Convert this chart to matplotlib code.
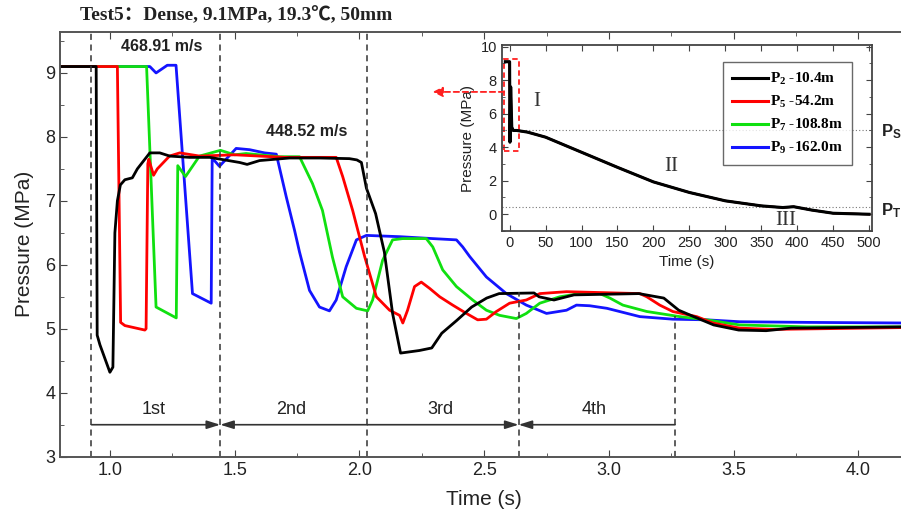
import numpy as np
import matplotlib
matplotlib.use("Agg")
import matplotlib.pyplot as plt
from matplotlib.patches import Rectangle

plt.rcParams["font.family"] = ["Liberation Sans", "DejaVu Sans"]
plt.rcParams["mathtext.fontset"] = "custom"
plt.rcParams["mathtext.rm"] = "Liberation Serif:bold"
plt.rcParams["mathtext.sf"] = "Liberation Sans:bold"

# main window, pressure at the four sensors
t_p2 = [0.80, 0.945, 0.949, 0.96, 1.00, 1.012, 1.02, 1.03, 1.042, 1.06, 1.09, 1.11, 1.14, 1.16,
        1.20, 1.24, 1.28, 1.32, 1.40, 1.52, 1.55, 1.60, 1.72, 1.84, 1.96, 1.99, 2.008, 2.028,
        2.065, 2.10, 2.133, 2.165, 2.24, 2.29, 2.33, 2.39, 2.45, 2.51, 2.56, 2.70, 2.72, 2.78,
        2.86, 3.12, 3.22, 3.28, 3.34, 3.42, 3.52, 3.63, 3.73, 4.20]
p_p2 = [9.1, 9.1, 4.9, 4.75, 4.32, 4.4, 6.5, 7.0, 7.25, 7.33, 7.36, 7.5, 7.65, 7.75,
        7.75, 7.7, 7.69, 7.68, 7.68, 7.6, 7.57, 7.63, 7.67, 7.67, 7.66, 7.64, 7.6, 7.2,
        6.8, 6.2, 5.24, 4.62, 4.66, 4.7, 4.93, 5.13, 5.34, 5.48, 5.55, 5.56, 5.5, 5.45,
        5.53, 5.55, 5.48, 5.29, 5.19, 5.06, 4.98, 4.97, 5.01, 5.03]

t_p5 = [0.80, 1.03, 1.043, 1.06, 1.14, 1.145, 1.152, 1.156, 1.175, 1.19, 1.239, 1.28, 1.36,
        1.50, 1.60, 1.70, 1.80, 1.907, 1.933, 1.973, 2.021, 2.068, 2.121, 2.161, 2.174,
        2.193, 2.221, 2.248, 2.282, 2.322, 2.374, 2.429, 2.474, 2.509, 2.549, 2.602, 2.669,
        2.723, 2.83, 3.124, 3.152, 3.204, 3.256, 3.352, 3.417, 3.524, 3.657, 4.20]
p_p5 = [9.1, 9.1, 5.1, 5.05, 4.98, 5.0, 7.58, 7.65, 7.4, 7.5, 7.7, 7.75, 7.7,
        7.72, 7.7, 7.68, 7.68, 7.68, 7.38, 6.85, 6.13, 5.5, 5.29, 5.21, 5.09,
        5.29, 5.66, 5.73, 5.63, 5.5, 5.37, 5.24, 5.14, 5.15, 5.27, 5.4, 5.45,
        5.55, 5.58, 5.55, 5.5, 5.37, 5.27, 5.19, 5.09, 5.01, 4.99, 5.02]

t_p7 = [0.80, 1.147, 1.185, 1.266, 1.272, 1.303, 1.359, 1.443, 1.50, 1.546, 1.68,
        1.76, 1.812, 1.852, 1.892, 1.933, 1.988, 2.033, 2.053, 2.093, 2.133, 2.173, 2.268,
        2.294, 2.334, 2.389, 2.454, 2.509, 2.562, 2.629, 2.669, 2.723, 2.803, 2.883, 2.964,
        3.004, 3.056, 3.152, 3.284, 3.392, 3.524, 3.793, 4.20]
p_p7 = [9.1, 9.1, 5.34, 5.17, 7.55, 7.38, 7.7, 7.79, 7.72, 7.74, 7.69,
        7.69, 7.27, 6.85, 6.12, 5.5, 5.32, 5.28, 5.45, 6.07, 6.39, 6.41, 6.41,
        6.28, 5.92, 5.66, 5.45, 5.29, 5.21, 5.16, 5.24, 5.4, 5.5, 5.55, 5.55,
        5.48, 5.37, 5.27, 5.19, 5.14, 5.06, 5.03, 5.03]

t_p9 = [0.80, 1.16, 1.185, 1.23, 1.265, 1.331, 1.406, 1.41, 1.439, 1.506, 1.56, 1.62, 1.667,
        1.707, 1.74, 1.76, 1.80, 1.84, 1.88, 1.907, 1.947, 1.988, 2.028, 2.161, 2.294, 2.389,
        2.414, 2.442, 2.509, 2.589, 2.669, 2.75, 2.83, 2.87, 2.923, 2.992, 3.124, 3.256,
        3.392, 3.524, 3.793, 4.20]
p_p9 = [9.1, 9.1, 9.0, 9.12, 9.12, 5.55, 5.4, 7.67, 7.54, 7.82, 7.8, 7.75, 7.73,
        7.06, 6.54, 6.2, 5.6, 5.34, 5.28, 5.45, 5.97, 6.39, 6.46, 6.44, 6.41, 6.39,
        6.28, 6.13, 5.81, 5.55, 5.37, 5.24, 5.29, 5.37, 5.36, 5.32, 5.19, 5.15,
        5.14, 5.11, 5.1, 5.09]

# long-term record for the inset
t_long = [-6, 0, 0.5, 1.5, 3, 5, 10, 25, 50, 100, 150, 200, 250, 300, 350, 380, 395,
          420, 450, 500]
p_long = [9.1, 9.1, 4.3, 7.6, 5.2, 5.0, 5.0, 4.9, 4.6, 3.7, 2.8, 1.93, 1.3, 0.8, 0.5,
          0.4, 0.45, 0.25, 0.06, 0.0]

labels = [r"$\mathrm{P_2}$ -10.4m", r"$\mathrm{P_5}$ -54.2m",
          r"$\mathrm{P_7}$ -108.8m", r"$\mathrm{P_9}$ -162.0m"]
colors = ["black", "#ff0000", "#10e010", "#1414ff"]

wave_bounds = [0.926, 1.442, 2.032, 2.638, 3.265]
wave_tops = [9.64, 9.64, 9.64, 5.57, 5.2]
wave_names = ["1st", "2nd", "3rd", "4th"]
speed_text = ["468.91 m/s", "448.52 m/s"]

fig = plt.figure(figsize=(9.01, 5.19), dpi=100)
ax = fig.add_axes([60 / 901, 1 - 456.7 / 519, 848.3 / 901, 424.7 / 519])

ax.plot(t_p9, p_p9, color=colors[3], lw=2)
ax.plot(t_p7, p_p7, color=colors[2], lw=2)
ax.plot(t_p5, p_p5, color=colors[1], lw=2)
ax.plot(t_p2, p_p2, color=colors[0], lw=2)

for xb, top in zip(wave_bounds, wave_tops):
    ax.plot([xb, xb], [3, top], color="#333333", lw=1.1, ls=(0, (4, 3)))

arrow_kw = dict(arrowstyle="-|>,head_length=0.8,head_width=0.25", color="#333333",
                lw=1.2, shrinkA=0, shrinkB=0)
for i in range(4):
    a, b = wave_bounds[i], wave_bounds[i + 1]
    if i % 2 == 0:
        ax.annotate("", xy=(b, 3.5), xytext=(a, 3.5), arrowprops=arrow_kw)
    else:
        ax.annotate("", xy=(a, 3.5), xytext=(b, 3.5), arrowprops=arrow_kw)
    ax.text((a + b) / 2 - 0.01, 3.74, wave_names[i], ha="center", va="center",
            fontsize=13, color="#222222")

ax.text(1.207, 9.41, speed_text[0], ha="center", va="center", fontsize=11.5,
        fontweight="bold", color="#222222")
ax.text(1.79, 8.08, speed_text[1], ha="center", va="center", fontsize=11.5,
        fontweight="bold", color="#222222")

ax.set_xticks([1.0, 1.5, 2.0, 2.5, 3.0, 3.5, 4.0])
ax.set_xticks(np.arange(0.75, 4.3, 0.25), minor=True)
ax.set_yticks(range(3, 10))
ax.set_yticks(np.arange(3, 9.7, 0.5), minor=True)
ax.set_xlim(0.8, 4.2)
ax.set_ylim(3, 9.64)
ax.tick_params(which="both", direction="in", top=True, right=True, colors="#444444",
               labelcolor="#222222", labelsize=13)
ax.tick_params(which="major", length=5)
ax.tick_params(which="minor", length=3)
for s in ax.spines.values():
    s.set_color("#555555")
    s.set_linewidth(1.4)
ax.set_xlabel("Time (s)", fontsize=15, color="#222222", labelpad=8)
ax.set_ylabel("Pressure (MPa)", fontsize=15, color="#222222", labelpad=8)

fig.text(80 / 901, 1 - 15 / 519, "Test5：Dense, 9.1MPa, 19.3℃, 50mm", ha="left",
         va="center", fontsize=14, fontweight="bold", color="#222222",
         family=["Liberation Serif", "Noto Sans CJK SC", "DejaVu Sans"])

# inset
ins = fig.add_axes([501.7 / 901, 1 - 231 / 519, 370.3 / 901, 186 / 519])
handles = []
for i in [3, 2, 1, 0]:
    h, = ins.plot(t_long, p_long, color=colors[i], lw=2.2 if i == 0 else 1.5)
    handles.append(h)
handles = handles[::-1]
ins.axhline(5.0, color="#777777", lw=0.8, ls=(0, (1, 2)), zorder=0)
ins.axhline(0.45, color="#777777", lw=0.8, ls=(0, (1, 2)), zorder=0)
ins.add_patch(Rectangle((-7.5, 3.8), 21, 5.45, fill=False, edgecolor="#ff2020",
                        lw=1.3, ls=(0, (3, 2))))
ins.annotate("", xy=(-107, 7.3), xytext=(-7.5, 7.3), annotation_clip=False,
             arrowprops=dict(arrowstyle="-|>,head_length=0.6,head_width=0.3",
                             color="#ff2020", lw=1.3, ls=(0, (3, 2)),
                             shrinkA=0, shrinkB=0))
ins.text(38, 6.7, "I", fontsize=15, family="Liberation Serif", ha="center",
         va="center", color="#333333")
ins.text(225, 2.83, "II", fontsize=15, family="Liberation Serif", ha="center",
         va="center", color="#333333")
ins.text(384, -0.4, "III", fontsize=15, family="Liberation Serif", ha="center",
         va="center", color="#333333")
ins.text(516, 4.92, r"$\mathsf{P_S}$", fontsize=12, ha="left", va="center",
         color="#222222", clip_on=False)
ins.text(516, 0.24, r"$\mathsf{P_T}$", fontsize=12, ha="left", va="center",
         color="#222222", clip_on=False)

ins.set_xticks(range(0, 501, 50))
ins.set_yticks(range(0, 11, 2))
ins.set_yticks(range(-1, 11), minor=True)
ins.set_xlim(-11, 504)
ins.set_ylim(-1, 10.1)
ins.tick_params(which="both", direction="in", top=True, right=True, colors="#444444",
                labelcolor="#222222", labelsize=10.5)
ins.tick_params(which="major", length=4)
ins.tick_params(which="minor", length=2)
for s in ins.spines.values():
    s.set_color("#444444")
    s.set_linewidth(1.3)
ins.set_xlabel("Time (s)", fontsize=11, color="#222222", labelpad=4)
ins.set_ylabel("Pressure (MPa)", fontsize=11, color="#222222", labelpad=4)

leg = ins.legend(handles, labels, loc="upper right", bbox_to_anchor=(0.946, 0.909),
                 prop={"family": "Liberation Serif", "weight": "bold", "size": 11},
                 frameon=True, fancybox=False, edgecolor="#444444", handlelength=2.4,
                 handletextpad=0.1, borderpad=0.6, labelspacing=0.45, borderaxespad=0)
leg.get_frame().set_linewidth(1.0)
for lh in leg.get_lines():
    lh.set_linewidth(2.2)

fig.savefig("out.png", dpi=100)
